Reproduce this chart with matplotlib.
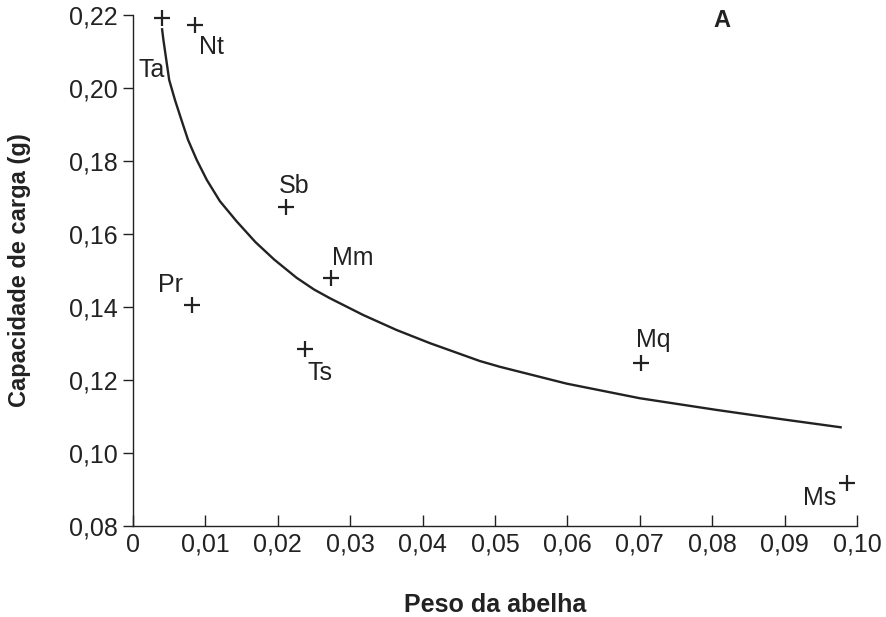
import matplotlib
matplotlib.use("Agg")
import matplotlib.pyplot as plt

# bee species: weight vs load capacity
species = ["Ta", "Nt", "Sb", "Mm", "Pr", "Ts", "Mq", "Ms"]
peso = [0.0040, 0.0085, 0.0211, 0.0273, 0.0081, 0.0238, 0.0701, 0.0986]
carga = [0.2191, 0.2173, 0.1673, 0.1479, 0.1405, 0.1285, 0.1246, 0.0917]

# label positions
label_x = [0.0026, 0.0109, 0.0222, 0.0303, 0.0052, 0.0258, 0.0719, 0.0949]
label_y = [0.2049, 0.2111, 0.1732, 0.1533, 0.1460, 0.1220, 0.1310, 0.0876]

# fitted curve
curve_x = [0.0040, 0.0042, 0.0046, 0.0050, 0.0058, 0.0067, 0.0076, 0.0088,
           0.0102, 0.0120, 0.0143, 0.0169, 0.0195, 0.0226, 0.0250, 0.0272,
           0.0318, 0.0364, 0.0410, 0.0479, 0.0507, 0.0599, 0.0700, 0.0806,
           0.0898, 0.0979]
curve_y = [0.2164, 0.2132, 0.2077, 0.2022, 0.1967, 0.1912, 0.1858, 0.1803,
           0.1748, 0.1690, 0.1635, 0.1578, 0.1530, 0.1480, 0.1448, 0.1424,
           0.1378, 0.1337, 0.1301, 0.1252, 0.1236, 0.1190, 0.1150, 0.1118,
           0.1092, 0.1070]

xticks = [0, 0.01, 0.02, 0.03, 0.04, 0.05, 0.06, 0.07, 0.08, 0.09, 0.10]
xtick_labels = ["0", "0,01", "0,02", "0,03", "0,04", "0,05", "0,06", "0,07", "0,08", "0,09", "0,10"]
yticks = [0.08, 0.10, 0.12, 0.14, 0.16, 0.18, 0.20, 0.22]
ytick_labels = ["0,08", "0,10", "0,12", "0,14", "0,16", "0,18", "0,20", "0,22"]

plt.rcParams["font.family"] = ["Liberation Sans", "DejaVu Sans"]
ink = "#222222"

fig = plt.figure(figsize=(8.86, 6.17), dpi=100)
ax = fig.add_axes([0.1501, 0.1475, 0.8172, 0.8282])

ax.plot(curve_x, curve_y, color=ink, linewidth=1.7, solid_capstyle="butt",
        solid_joinstyle="round")
ax.plot(peso, carga, linestyle="none", marker="+", markersize=11,
        markeredgewidth=1.6, color=ink, clip_on=False)

for name, lx, ly in zip(species, label_x, label_y):
    ax.text(lx, ly, name, fontsize=18, color=ink, ha="center", va="center")

ax.text(0.0813, 0.2185, "A", fontsize=17, fontweight="bold", color=ink,
        ha="center", va="center")

ax.set_xlim(0, 0.10)
ax.set_ylim(0.08, 0.22)
ax.set_xticks(xticks)
ax.set_xticklabels(xtick_labels)
ax.set_yticks(yticks)
ax.set_yticklabels(ytick_labels)

for side in ("top", "right"):
    ax.spines[side].set_visible(False)
for side in ("left", "bottom"):
    ax.spines[side].set_color(ink)
    ax.spines[side].set_linewidth(1.0)

ax.tick_params(axis="x", direction="in", length=8, width=1.0, colors=ink,
               labelsize=18, pad=5)
ax.tick_params(axis="y", direction="out", length=7, width=1.0, colors=ink,
               labelsize=18, pad=4)

ax.set_xlabel("Peso da abelha", fontsize=18, fontweight="bold", color=ink, labelpad=26)
ax.set_ylabel("Capacidade de carga (g)", fontsize=17, fontweight="bold", color=ink, labelpad=27)

fig.savefig("out.png", dpi=100)
